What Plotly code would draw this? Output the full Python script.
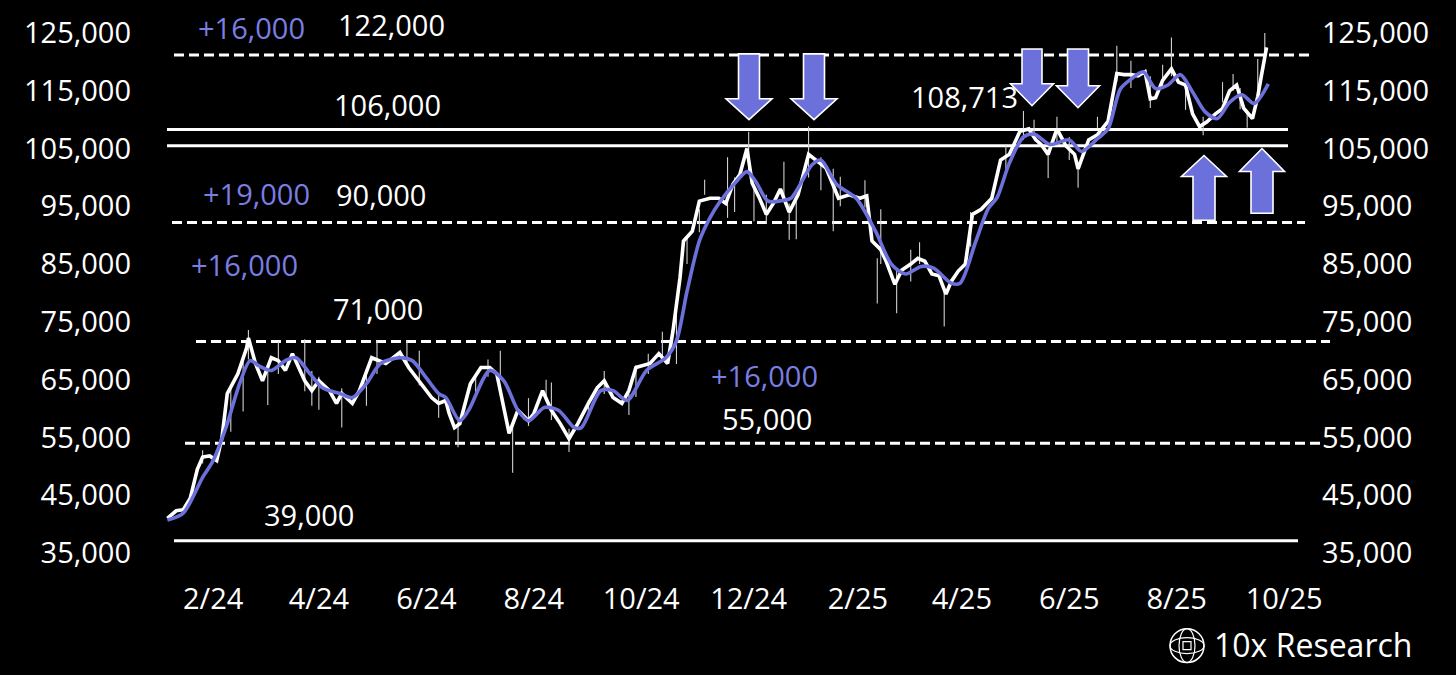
import plotly.graph_objects as go
import pandas as pd

# ---------------- data ----------------
close_dates = [
    "2024-01-22", "2024-01-27", "2024-01-31", "2024-02-04", "2024-02-08", "2024-02-11", "2024-02-15",
    "2024-02-19", "2024-02-22", "2024-02-25", "2024-03-02", "2024-03-07", "2024-03-08", "2024-03-12",
    "2024-03-16", "2024-03-21", "2024-03-25", "2024-03-29", "2024-04-02", "2024-04-09", "2024-04-13",
    "2024-04-17", "2024-04-23", "2024-04-27", "2024-04-30", "2024-05-06", "2024-05-10", "2024-05-14",
    "2024-05-17", "2024-05-25", "2024-05-31", "2024-06-02", "2024-06-07", "2024-06-13", "2024-06-20",
    "2024-06-24", "2024-06-28", "2024-06-30", "2024-07-03", "2024-07-06", "2024-07-12", "2024-07-18",
    "2024-07-23", "2024-07-27", "2024-07-31", "2024-08-03", "2024-08-08", "2024-08-14", "2024-08-17",
    "2024-08-22", "2024-08-27", "2024-09-01", "2024-09-06", "2024-09-11", "2024-09-17", "2024-09-22",
    "2024-09-26", "2024-10-01", "2024-10-06", "2024-10-10", "2024-10-14", "2024-10-22", "2024-10-27",
    "2024-11-01", "2024-11-04", "2024-11-08", "2024-11-10", "2024-11-15", "2024-11-19", "2024-11-25",
    "2024-11-30", "2024-12-04", "2024-12-08", "2024-12-12", "2024-12-16", "2024-12-19", "2024-12-23",
    "2024-12-27", "2024-12-31", "2025-01-04", "2025-01-09", "2025-01-14", "2025-01-20", "2025-01-24",
    "2025-01-30", "2025-02-06", "2025-02-12", "2025-02-18", "2025-02-22", "2025-02-25", "2025-03-02",
    "2025-03-05", "2025-03-10", "2025-03-14", "2025-03-19", "2025-03-23", "2025-03-27", "2025-03-31",
    "2025-04-04", "2025-04-08", "2025-04-11", "2025-04-15", "2025-04-19", "2025-04-23", "2025-04-28",
    "2025-05-04", "2025-05-09", "2025-05-14", "2025-05-20", "2025-05-25", "2025-05-29", "2025-06-01",
    "2025-06-05", "2025-06-10", "2025-06-15", "2025-06-20", "2025-06-22", "2025-06-28", "2025-07-03",
    "2025-07-09", "2025-07-14", "2025-07-18", "2025-07-22", "2025-07-26", "2025-07-30", "2025-08-02",
    "2025-08-05", "2025-08-09", "2025-08-14", "2025-08-18", "2025-08-22", "2025-08-26", "2025-08-30",
    "2025-09-03", "2025-09-08", "2025-09-12", "2025-09-16", "2025-09-20", "2025-09-24", "2025-09-29",
    "2025-10-02", "2025-10-04", "2025-10-06", "2025-10-07",
]
close_values = [
    41000, 42300, 42500, 44500, 49500, 51600, 51800,
    51000, 55000, 62600, 66000, 70500, 72200, 67800,
    64800, 68800, 68300, 66600, 69500, 64800, 63100,
    64800, 63100, 60900, 62600, 60900, 63100, 66600,
    68800, 67800, 69100, 69700, 67100, 64800, 61900,
    60900, 61400, 59100, 56700, 57400, 64300, 67100,
    67100, 66000, 60200, 55700, 59700, 57900, 59100,
    63100, 59700, 57400, 54800, 57400, 60900, 63600,
    64800, 61900, 60900, 63100, 67100, 67800, 69500,
    67800, 73400, 82600, 89000, 90700, 95900, 96400,
    96400, 95500, 98800, 100500, 105000, 99000, 96500,
    93600, 95500, 98000, 94000, 97000, 104000, 103000,
    101600, 96400, 97000, 96400, 96800, 89000, 87500,
    85500, 81500, 84000, 85000, 86000, 85500, 83300,
    83000, 79800, 82000, 83800, 85000, 93600, 94500,
    96400, 103000, 104000, 108000, 108400, 106500, 105700,
    104000, 108400, 105500, 104000, 101500, 106500, 107400,
    109700, 118000, 117800, 117800, 117600, 118300, 113600,
    113800, 116800, 118800, 116500, 116000, 111000, 108800,
    109600, 111000, 111900, 115000, 116000, 112000, 110200,
    114000, 117500, 121500, 122500,
]

ma_dates = [
    "2024-01-22", "2024-01-31", "2024-02-11", "2024-02-17", "2024-02-25", "2024-03-03", "2024-03-09",
    "2024-03-14", "2024-03-21", "2024-03-29", "2024-04-04", "2024-04-12", "2024-04-19", "2024-04-29",
    "2024-05-06", "2024-05-14", "2024-05-22", "2024-06-02", "2024-06-09", "2024-06-17", "2024-06-24",
    "2024-06-28", "2024-07-06", "2024-07-11", "2024-07-23", "2024-07-31", "2024-08-08", "2024-08-14",
    "2024-08-23", "2024-08-31", "2024-09-09", "2024-09-13", "2024-09-24", "2024-10-01", "2024-10-09",
    "2024-10-20", "2024-10-31", "2024-11-06", "2024-11-12", "2024-11-19", "2024-11-25", "2024-11-30",
    "2024-12-10", "2024-12-16", "2024-12-21", "2024-12-28", "2025-01-05", "2025-01-10", "2025-01-22",
    "2025-01-27", "2025-02-05", "2025-02-16", "2025-02-27", "2025-03-08", "2025-03-16", "2025-03-25",
    "2025-04-01", "2025-04-11", "2025-04-16", "2025-04-25", "2025-05-02", "2025-05-07", "2025-05-14",
    "2025-05-22", "2025-05-28", "2025-06-06", "2025-06-17", "2025-06-24", "2025-07-03", "2025-07-09",
    "2025-07-16", "2025-07-22", "2025-07-29", "2025-08-05", "2025-08-12", "2025-08-19", "2025-08-26",
    "2025-09-02", "2025-09-09", "2025-09-16", "2025-09-23", "2025-09-30", "2025-10-08",
]
ma_values = [
    40700, 41900, 48100, 51000, 57400, 64300, 68300,
    67400, 66600, 68300, 68800, 66000, 63600, 62600,
    61900, 64300, 67800, 68800, 68300, 65300, 62600,
    61900, 57900, 59700, 66600, 64800, 59700, 57900,
    60200, 59700, 56700, 56700, 63100, 63100, 61400,
    66600, 68800, 71700, 80300, 89000, 93000, 95500,
    99300, 101000, 99300, 95900, 96000, 96400, 102200,
    103000, 98800, 96400, 90700, 85000, 83300, 84600,
    84300, 81700, 81700, 89000, 94600, 96500, 102500,
    107000, 107500, 105700, 106500, 104500, 106700, 108400,
    115300, 117000, 118300, 115400, 116000, 117800, 114800,
    111400, 110200, 113000, 114300, 112800, 116200,
]

wick_dates = [
    "2024-02-11", "2024-02-27", "2024-03-05", "2024-03-08", "2024-03-19", "2024-03-25", "2024-04-09",
    "2024-04-13", "2024-04-17", "2024-04-30", "2024-05-14", "2024-05-20", "2024-06-06", "2024-06-13",
    "2024-06-24", "2024-07-05", "2024-07-15", "2024-07-22", "2024-07-29", "2024-08-05", "2024-08-14",
    "2024-08-24", "2024-08-27", "2024-09-06", "2024-09-17", "2024-09-26", "2024-10-10", "2024-10-14",
    "2024-10-21", "2024-10-29", "2024-11-06", "2024-11-12", "2024-11-19", "2024-11-22", "2024-12-05",
    "2024-12-09", "2024-12-17", "2024-12-20", "2024-12-27", "2025-01-06", "2025-01-09", "2025-01-13",
    "2025-01-20", "2025-01-27", "2025-02-03", "2025-02-07", "2025-02-21", "2025-02-28", "2025-03-02",
    "2025-03-11", "2025-03-19", "2025-03-24", "2025-04-07", "2025-04-22", "2025-05-12", "2025-05-22",
    "2025-05-28", "2025-06-05", "2025-06-10", "2025-06-17", "2025-06-22", "2025-07-03", "2025-07-14",
    "2025-07-22", "2025-08-02", "2025-08-09", "2025-08-14", "2025-08-22", "2025-09-01", "2025-09-12",
    "2025-09-18", "2025-09-22", "2025-09-26", "2025-10-02", "2025-10-06",
]
wick_lows = [
    50500, 56000, 59500, 68500, 60600, 66000, 63000,
    60500, 59800, 56700, 60500, 66000, 68000, 64000,
    58400, 53300, 62000, 65500, 65000, 48900, 57000,
    61500, 58000, 52500, 58500, 62500, 58900, 62000,
    66000, 68500, 67700, 85000, 90500, 97000, 93000,
    94000, 100500, 92400, 92000, 97000, 89200, 89300,
    100000, 97800, 90700, 95000, 94800, 78200, 85000,
    76500, 82000, 85000, 74200, 88000, 100800, 106500,
    106800, 99900, 105500, 103000, 98200, 108500, 116500,
    115500, 112000, 115500, 117500, 111700, 107300, 113000,
    115000, 111800, 108600, 114000, 121000,
]
wick_highs = [
    52800, 63500, 69000, 73600, 67000, 71500, 72000,
    66500, 65500, 63500, 66800, 71800, 71800, 70000,
    62500, 58500, 65500, 68500, 70000, 57500, 61800,
    65000, 64500, 56500, 61500, 66500, 62500, 67500,
    69500, 73300, 76500, 90000, 94500, 99600, 103500,
    100000, 107900, 98000, 97000, 102700, 95500, 95900,
    108800, 103500, 101500, 100100, 99500, 86000, 94500,
    84000, 87500, 88800, 81000, 94000, 105800, 111500,
    110000, 105000, 110500, 107000, 102500, 110500, 122800,
    120200, 117500, 119500, 124200, 117200, 110500, 116500,
    117900, 115500, 111500, 120500, 125400,
]

level_values = [121200, 108300, 105500, 92200, 71600, 54000, 37100]
level_labels = ["122,000", "108,713", "106,000", "90,000", "71,000", "55,000", "39,000"]
gain_labels = ["+16,000", "+19,000", "+16,000", "+16,000"]
tick_dates = ["2024-02-17", "2024-04-17", "2024-06-17", "2024-08-17", "2024-10-17", "2024-12-17",
              "2025-02-17", "2025-04-17", "2025-06-17", "2025-08-17", "2025-10-17"]
tick_labels = ["2/24", "4/24", "6/24", "8/24", "10/24", "12/24", "2/25", "4/25", "6/25", "8/25", "10/25"]
y_ticks = [35000, 45000, 55000, 65000, 75000, 85000, 95000, 105000, 115000, 125000]

# ---------------- layout geometry (pixels) ----------------
W, H = 1456, 675
L, R, T, B = 165, 1312, 31, 553
FONT = "Open Sans"
BLUE = "#6C70DB"
BLUE_TXT = "#7A7EE2"


def px(xp):
    return (xp - L) / (R - L)


def py(yp):
    return (B - yp) / (B - T)


base = pd.Timestamp("2024-02-01")
ppd = 1.7615
x_left = base + pd.Timedelta(days=(L - 185) / ppd)
x_right = base + pd.Timedelta(days=(R - 185) / ppd)

fig = go.Figure()

# wicks
wx, wy = [], []
for d, lo, hi in zip(wick_dates, wick_lows, wick_highs):
    wx += [d, d, None]
    wy += [lo, hi, None]
fig.add_trace(go.Scatter(x=wx, y=wy, mode="lines", line=dict(color="#d0d0d0", width=1.1),
                         hoverinfo="skip", showlegend=False))

# moving average (blue) on right axis, matching left
fig.add_trace(go.Scatter(x=ma_dates, y=ma_values, mode="lines", yaxis="y2",
                         line=dict(color=BLUE, width=3.6, shape="spline", smoothing=0.8),
                         showlegend=False))
# price (white)
fig.add_trace(go.Scatter(x=close_dates, y=close_values, mode="lines",
                         line=dict(color="white", width=3.6),
                         showlegend=False))

shapes = []
# horizontal levels: (x start px, x end px, dashed?)
level_style = [(174, 1312, True), (167, 1288, False), (167, 1288, False), (172, 1305, True),
               (196, 1330, True), (185, 1320, True), (174, 1298, False)]
for v, (x0, x1, dashed) in zip(level_values, level_style):
    shapes.append(dict(type="line", xref="paper", yref="y", x0=px(x0), x1=px(x1), y0=v, y1=v,
                       line=dict(color="white", width=3, dash="10px,5px" if dashed else "solid"),
                       layer="below"))


def arrow(cx, y_start, y_tip, y_head, sw, hw):
    pts = [(cx - sw, y_start), (cx + sw, y_start), (cx + sw, y_head), (cx + hw, y_head),
           (cx, y_tip), (cx - hw, y_head), (cx - sw, y_head)]
    path = "M " + " L ".join(f"{px(a):.5f},{py(b):.5f}" for a, b in pts) + " Z"
    return dict(type="path", xref="paper", yref="paper", path=path, fillcolor=BLUE,
                line=dict(color="white", width=1.6), layer="above")


arrows = [(749, 52, 118, 97, 10.5, 23), (814, 52, 118, 97, 10.5, 23),
          (1032, 47, 104, 82, 10, 21.5), (1078, 47, 106, 84, 10.5, 21.5),
          (1204, 219, 154, 175, 11, 22.5), (1262, 212, 147, 170, 11, 22.5)]
for a in arrows:
    shapes.append(arrow(*a))

# logo
lcx, lcy, lr = 1187, 646, 17
shapes.append(dict(type="circle", xref="paper", yref="paper", x0=px(lcx - lr), x1=px(lcx + lr),
                   y0=py(lcy + lr), y1=py(lcy - lr), line=dict(color="white", width=1.5)))
for rx, ry in [(lr, 8), (8, lr)]:
    shapes.append(dict(type="circle", xref="paper", yref="paper", x0=px(lcx - rx), x1=px(lcx + rx),
                       y0=py(lcy + ry), y1=py(lcy - ry), line=dict(color="white", width=1.2)))
shapes.append(dict(type="rect", xref="paper", yref="paper", x0=px(lcx - 4), x1=px(lcx + 4),
                   y0=py(lcy + 4), y1=py(lcy - 4), line=dict(color="white", width=1.2)))

annotations = []
level_label_pos = [(391, 22), (964, 95), (387, 103), (381, 193), (378, 308), (767, 418), (309, 514)]
for t, (ax, ay) in zip(level_labels, level_label_pos):
    annotations.append(dict(text=t, x=px(ax), y=py(ay), xref="paper", yref="paper", showarrow=False,
                            xanchor="center", yanchor="middle",
                            font=dict(family=FONT, size=29, color="white")))
gain_pos = [(251, 25), (256, 192), (244, 263), (764, 375)]
for t, (ax, ay) in zip(gain_labels, gain_pos):
    annotations.append(dict(text=t, x=px(ax), y=py(ay), xref="paper", yref="paper", showarrow=False,
                            xanchor="center", yanchor="middle",
                            font=dict(family=FONT, size=29, color=BLUE_TXT)))
annotations.append(dict(text="10x Research", x=px(1212), y=py(645), xref="paper", yref="paper",
                        showarrow=False, xanchor="left", yanchor="middle",
                        font=dict(family=FONT, size=32, color="white")))

yfmt = [f"{v:,}" for v in y_ticks]
fig.update_layout(
    width=W, height=H,
    margin=dict(l=L, r=W - R, t=T, b=H - B, pad=0),
    paper_bgcolor="black", plot_bgcolor="black",
    showlegend=False,
    shapes=shapes,
    annotations=annotations,
    xaxis=dict(type="date", range=[x_left, x_right], tickvals=tick_dates, ticktext=tick_labels,
               showgrid=False, zeroline=False, showline=False, ticks="",
               tickfont=dict(family=FONT, size=29, color="white"), ticklabelstandoff=26),
    yaxis=dict(range=[35000, 125000], tickvals=y_ticks, ticktext=yfmt, showgrid=False,
               zeroline=False, showline=False, ticks="", side="left",
               tickfont=dict(family=FONT, size=29, color="white"), ticklabelstandoff=33),
    yaxis2=dict(range=[35000, 125000], tickvals=y_ticks, ticktext=yfmt, overlaying="y", side="right",
                matches="y", showgrid=False, zeroline=False, showline=False, ticks="",
                tickfont=dict(family=FONT, size=29, color="white"), ticklabelstandoff=9),
)

fig.write_html("out.html", config={"displayModeBar": False},
               post_script="document.body.style.margin='0';"
               "document.body.style.background='black';")
